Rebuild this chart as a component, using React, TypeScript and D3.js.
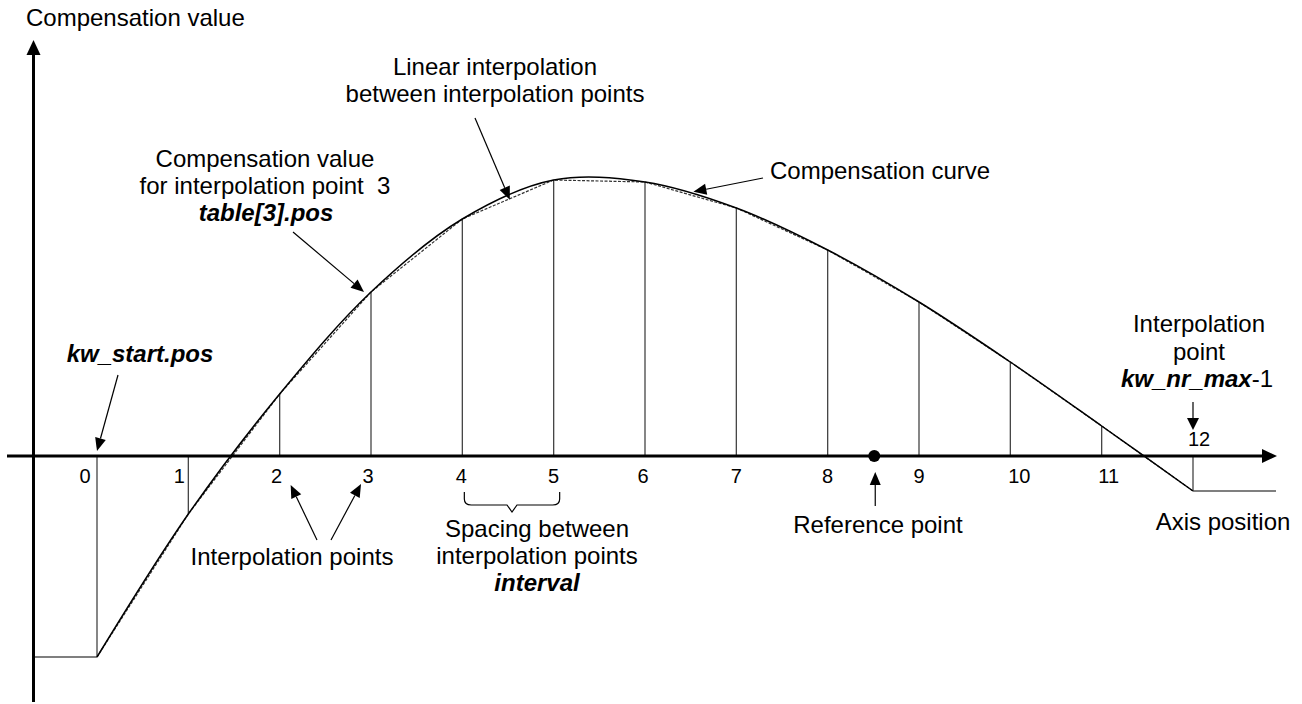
import React from 'react';
import * as d3 from 'd3';

// ---- data ----
const pointIndex = [0, 1, 2, 3, 4, 5, 6, 7, 8, 9, 10, 11, 12];
const pointLabels = ['0', '1', '2', '3', '4', '5', '6', '7', '8', '9', '10', '11', '12'];
const compensationValues = [-20.1, -5.8, 6.2, 16.4, 23.7, 27.6, 27.4, 24.8, 20.6, 15.4, 9.4, 3.0, -3.5];
const referencePoint = 8.51;
const lineInterpAt = 4.52;
const curveArrowAt = 6.53;

// ---- layout ----
const W = 1302;
const H = 704;
const labelShift = [-12, -9, -3, -3, -1, 0, -2, 0, 0, 0, 9, 7, 6];
const FONT = '"Liberation Sans", Arial, Helvetica, sans-serif';
const FS = 24;

function Arrow({ x1, y1, x2, y2, len = 13, half = 5.5, sw = 1.2 }: any) {
  const ang = Math.atan2(y2 - y1, x2 - x1);
  const bx = x2 - len * Math.cos(ang);
  const by = y2 - len * Math.sin(ang);
  const px = -Math.sin(ang) * half;
  const py = Math.cos(ang) * half;
  return (
    <g>
      <line x1={x1} y1={y1} x2={bx} y2={by} stroke="#000" strokeWidth={sw} />
      <polygon points={`${x2},${y2} ${bx + px},${by + py} ${bx - px},${by - py}`} fill="#000" />
    </g>
  );
}

export default function App() {
  const x = d3.scaleLinear().domain([0, 12]).range([97, 1193]);
  const y = d3.scaleLinear().domain([0, 10]).range([456, 356]);
  const axisY = y(0);
  const yAxisX = 33.5;

  const pts: [number, number][] = pointIndex.map((i) => [x(i), y(compensationValues[i])]);
  const smooth = d3.line().curve(d3.curveCatmullRom.alpha(0.5))(pts) as string;
  const poly = d3.line()(pts) as string;

  const interpY = (t: number) => {
    const i = Math.floor(t);
    const f = t - i;
    return compensationValues[i] + f * (compensationValues[i + 1] - compensationValues[i]);
  };

  const last = pointIndex.length - 1;
  const x4 = x(4);
  const x5 = x(5);
  const braceTop = 492;
  const braceMid = 505;
  const braceTip = 512;
  const bl = x4 + 2;
  const br = x5 + 6;
  const bm = (bl + br) / 2;
  const brace = `M${bl},${braceTop} L${bl},${braceMid - 6} Q${bl},${braceMid} ${bl + 7},${braceMid} L${bm - 5},${braceMid} L${bm},${braceTip} L${bm + 5},${braceMid} L${br - 7},${braceMid} Q${br},${braceMid} ${br},${braceMid - 6} L${br},${braceTop}`;

  const t = { fontFamily: FONT, fontSize: FS, fill: '#000' } as any;
  const bi = { fontWeight: 'bold', fontStyle: 'italic' } as any;

  return (
    <svg width={W} height={H} style={{ position: 'absolute', left: 0, top: 0, display: 'block', background: '#fff' }}>
      {/* flat extensions */}
      <line x1={yAxisX} y1={y(compensationValues[0])} x2={x(0)} y2={y(compensationValues[0])} stroke="#000" strokeWidth={1.2} />
      <line x1={x(last)} y1={y(compensationValues[last])} x2={1276} y2={y(compensationValues[last])} stroke="#000" strokeWidth={1.2} />

      {/* vertical lines at interpolation points */}
      {pointIndex.map((i) => (
        <line key={'v' + i} x1={x(i)} y1={axisY} x2={x(i)} y2={y(compensationValues[i])} stroke="#444" strokeWidth={1.3} />
      ))}

      {/* linear interpolation (dashed) */}
      <path d={poly} fill="none" stroke="#333" strokeWidth={1.2} strokeDasharray="3,1.5" />
      {/* compensation curve */}
      <path d={smooth} fill="none" stroke="#000" strokeWidth={1.5} />

      {/* axes */}
      <line x1={7} y1={axisY} x2={1264} y2={axisY} stroke="#000" strokeWidth={3} />
      <polygon points={`1277,${axisY} 1262,${axisY - 7} 1262,${axisY + 7}`} fill="#000" />
      <line x1={yAxisX} y1={702} x2={yAxisX} y2={52} stroke="#000" strokeWidth={3} />
      <polygon points={`${yAxisX},40 ${yAxisX - 7},55 ${yAxisX + 7},55`} fill="#000" />

      {/* reference point */}
      <circle cx={x(referencePoint)} cy={axisY} r={6} fill="#000" />
      <Arrow x1={x(referencePoint) + 1} y1={506} x2={x(referencePoint) + 1} y2={472} />

      {/* tick labels */}
      {pointIndex.map((i) => (
        <text key={'l' + i} x={x(i) + labelShift[i]} y={i === last ? 446 : 483} textAnchor="middle" style={{ ...t, fontSize: 20 }}>
          {pointLabels[i]}
        </text>
      ))}

      {/* brace */}
      <path d={brace} fill="none" stroke="#000" strokeWidth={1.2} />

      {/* texts */}
      <text x={26} y={26} style={t}>Compensation value</text>

      <text x={495} y={75} textAnchor="middle" style={t}>Linear interpolation</text>
      <text x={495} y={102} textAnchor="middle" style={t}>between interpolation points</text>
      <Arrow x1={475} y1={118} x2={x(lineInterpAt)} y2={y(interpY(lineInterpAt)) + 1} />

      <text x={265} y={167} textAnchor="middle" style={t}>Compensation value</text>
      <text x={265} y={194} textAnchor="middle" style={t} xmlSpace="preserve">for interpolation point  3</text>
      <text x={266} y={221} textAnchor="middle" style={{ ...t, ...bi }}>table[3].pos</text>
      <Arrow x1={293} y1={232} x2={x(3) - 7} y2={y(compensationValues[3])} />

      <text x={770} y={179} style={t}>Compensation curve</text>
      <Arrow x1={763} y1={178} x2={x(curveArrowAt)} y2={y(interpY(curveArrowAt)) - 4} />

      <text x={140} y={362} textAnchor="middle" style={{ ...t, ...bi }}>kw_start.pos</text>
      <Arrow x1={118} y1={375} x2={x(0)} y2={axisY - 5} />

      <text x={1199} y={332} textAnchor="middle" style={t}>Interpolation</text>
      <text x={1199} y={360} textAnchor="middle" style={t}>point</text>
      <text x={1197} y={387} textAnchor="middle" style={t}>
        <tspan style={bi}>kw_nr_max</tspan>
        <tspan>-1</tspan>
      </text>
      <Arrow x1={x(last)} y1={402} x2={x(last)} y2={430} len={12} half={6} />

      <text x={292} y={565} textAnchor="middle" style={t}>Interpolation points</text>
      <Arrow x1={317} y1={540} x2={x(2) + 11} y2={485} />
      <Arrow x1={331} y1={540} x2={x(3) - 10} y2={484} />

      <text x={537} y={537} textAnchor="middle" style={t}>Spacing between</text>
      <text x={537} y={564} textAnchor="middle" style={t}>interpolation points</text>
      <text x={537} y={591} textAnchor="middle" style={{ ...t, ...bi }}>interval</text>

      <text x={878} y={533} textAnchor="middle" style={t}>Reference point</text>
      <text x={1223} y={530} textAnchor="middle" style={t}>Axis position</text>
    </svg>
  );
}
